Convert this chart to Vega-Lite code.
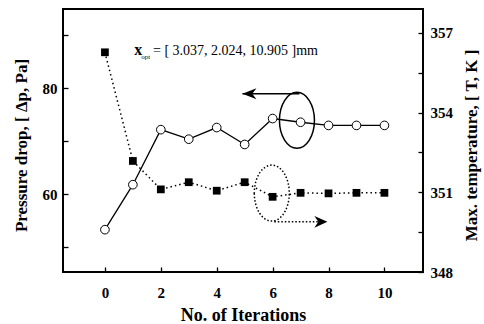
{
  "$schema": "https://vega.github.io/schema/vega-lite/v6.json",
  "width": 360,
  "height": 263,
  "autosize": {"type": "none"},
  "padding": {"left": 63, "top": 9, "right": 61, "bottom": 52},
  "background": "white",
  "config": {
    "view": {"stroke": "black", "strokeWidth": 2},
    "axis": {
      "grid": false,
      "domain": false,
      "labelFont": "Liberation Serif",
      "labelFontWeight": "bold",
      "labelFontSize": 15,
      "labelColor": "black",
      "titleFont": "Liberation Serif",
      "titleFontWeight": "bold",
      "titleFontSize": 18,
      "titleColor": "black",
      "tickColor": "black",
      "tickSize": -5,
      "tickWidth": 1.3
    }
  },
  "datasets": {
    "iter": [
      {"it": 0, "dp": 53.3, "T": 356.27},
      {"it": 1, "dp": 61.8, "T": 352.18},
      {"it": 2, "dp": 72.2, "T": 351.11},
      {"it": 3, "dp": 70.4, "T": 351.38},
      {"it": 4, "dp": 72.6, "T": 351.06},
      {"it": 5, "dp": 69.4, "T": 351.38},
      {"it": 6, "dp": 74.3, "T": 350.83},
      {"it": 7, "dp": 73.6, "T": 350.98},
      {"it": 8, "dp": 73.0, "T": 350.96},
      {"it": 9, "dp": 73.0, "T": 350.98},
      {"it": 10, "dp": 73.0, "T": 350.98}
    ]
  },
  "layer": [
    {
      "layer": [
        {
          "data": {"name": "iter"},
          "mark": {"type": "line", "color": "black", "strokeWidth": 1.3},
          "encoding": {
            "x": {
              "field": "it", "type": "quantitative",
              "scale": {"domain": [-1.5, 11.38], "nice": false, "zero": false},
              "axis": {
                "values": [0, 2, 4, 6, 8, 10],
                "title": "No. of Iterations",
                "labelPadding": 18,
                "titleX": 180, "titleY": 43,
                "titleBaseline": "middle", "titleAlign": "center"
              }
            },
            "y": {
              "field": "dp", "type": "quantitative",
              "scale": {"domain": [45.3, 95], "nice": false, "zero": false},
              "axis": {
                "values": [50, 60, 70, 80, 90],
                "labelExpr": "datum.value % 20 == 0 ? datum.label : ''",
                "title": "Pressure drop, [ Δp, Pa]",
                "titleFontSize": 17,
                "labelPadding": 11,
                "titleAngle": 270,
                "titleX": -42, "titleY": 136,
                "titleBaseline": "middle", "titleAlign": "center"
              }
            }
          }
        },
        {
          "data": {"name": "iter"},
          "mark": {"type": "point", "shape": "circle", "filled": true, "fill": "white", "stroke": "black", "strokeWidth": 1, "size": 75, "opacity": 1},
          "encoding": {
            "x": {"field": "it", "type": "quantitative"},
            "y": {"field": "dp", "type": "quantitative"}
          }
        },
        {
          "data": {"values": [{"xa": 4.92, "xb": 6.96, "y": 79.0}]},
          "mark": {"type": "rule", "color": "black", "strokeWidth": 1.5},
          "encoding": {
            "x": {"field": "xa", "type": "quantitative"},
            "x2": {"field": "xb"},
            "y": {"field": "y", "type": "quantitative"}
          }
        },
        {
          "data": {"values": [{"x": 4.92, "y": 79.0}]},
          "mark": {"type": "point", "shape": "M 0 0 L 1 -0.39 L 0.7 0 L 1 0.39 Z", "filled": true, "color": "black", "size": 784, "opacity": 1},
          "encoding": {
            "x": {"field": "x", "type": "quantitative"},
            "y": {"field": "y", "type": "quantitative"}
          }
        },
        {
          "data": {"values": [{"x": 6.87, "y": 73.96}]},
          "mark": {"type": "point", "shape": "M -0.625 0 A 0.625 1 0 1 0 0.625 0 A 0.625 1 0 1 0 -0.625 0 Z", "filled": false, "stroke": "black", "strokeWidth": 1.5, "size": 3136, "opacity": 1},
          "encoding": {
            "x": {"field": "x", "type": "quantitative"},
            "y": {"field": "y", "type": "quantitative"}
          }
        },
        {
          "data": {"values": [{"x": 1.05, "y": 86.4, "t": "x"}]},
          "mark": {"type": "text", "font": "Liberation Serif", "fontWeight": "bold", "fontSize": 16, "align": "left", "baseline": "alphabetic", "color": "black"},
          "encoding": {
            "x": {"field": "x", "type": "quantitative"},
            "y": {"field": "y", "type": "quantitative"},
            "text": {"field": "t"}
          }
        },
        {
          "data": {"values": [{"x": 1.3, "y": 85.9, "t": "opt"}]},
          "mark": {"type": "text", "font": "Liberation Serif", "fontSize": 7, "align": "left", "baseline": "middle", "color": "black"},
          "encoding": {
            "x": {"field": "x", "type": "quantitative"},
            "y": {"field": "y", "type": "quantitative"},
            "text": {"field": "t"}
          }
        },
        {
          "data": {"values": [{"x": 1.72, "y": 86.4, "t": "= [ 3.037, 2.024, 10.905 ]mm"}]},
          "mark": {"type": "text", "font": "Liberation Serif", "fontSize": 14, "align": "left", "baseline": "alphabetic", "color": "black"},
          "encoding": {
            "x": {"field": "x", "type": "quantitative"},
            "y": {"field": "y", "type": "quantitative"},
            "text": {"field": "t"}
          }
        }
      ]
    },
    {
      "layer": [
        {
          "data": {"name": "iter"},
          "mark": {"type": "line", "color": "black", "strokeWidth": 1.5, "strokeDash": [1.5, 3]},
          "encoding": {
            "x": {"field": "it", "type": "quantitative"},
            "y": {
              "field": "T", "type": "quantitative",
              "scale": {"domain": [348, 357.9], "nice": false, "zero": false},
              "axis": {
                "orient": "right",
                "values": [348, 349.5, 351, 352.5, 354, 355.5, 357],
                "labelExpr": "datum.value % 3 == 0 ? datum.label : ''",
                "title": "Max. temperature, [ T, K ]",
                "titleFontSize": 17,
                "labelPadding": 12,
                "titleAngle": 270,
                "titleX": 48, "titleY": 136,
                "titleBaseline": "middle", "titleAlign": "center"
              }
            }
          }
        },
        {
          "data": {"name": "iter"},
          "mark": {"type": "point", "shape": "square", "filled": true, "color": "black", "size": 60, "opacity": 1},
          "encoding": {
            "x": {"field": "it", "type": "quantitative"},
            "y": {"field": "T", "type": "quantitative"}
          }
        },
        {
          "data": {"values": [{"xa": 6.06, "xb": 7.7, "y": 349.89}]},
          "mark": {"type": "rule", "color": "black", "strokeWidth": 1.5, "strokeDash": [1.5, 2]},
          "encoding": {
            "x": {"field": "xa", "type": "quantitative"},
            "x2": {"field": "xb"},
            "y": {"field": "y", "type": "quantitative"}
          }
        },
        {
          "data": {"values": [{"x": 7.96, "y": 349.89}]},
          "mark": {"type": "point", "shape": "M 0 0 L -1 -0.45 L -0.7 0 L -1 0.45 Z", "filled": true, "color": "black", "size": 676, "opacity": 1},
          "encoding": {
            "x": {"field": "x", "type": "quantitative"},
            "y": {"field": "y", "type": "quantitative"}
          }
        },
        {
          "data": {"values": [{"x": 5.97, "y": 350.97}]},
          "mark": {"type": "point", "shape": "M -0.625 0 A 0.625 1 0 1 0 0.625 0 A 0.625 1 0 1 0 -0.625 0 Z", "filled": false, "stroke": "black", "strokeWidth": 1.5, "strokeDash": [1.5, 2], "size": 3136, "opacity": 1},
          "encoding": {
            "x": {"field": "x", "type": "quantitative"},
            "y": {"field": "y", "type": "quantitative"}
          }
        }
      ]
    }
  ],
  "resolve": {"scale": {"y": "independent"}, "axis": {"y": "independent"}}
}
